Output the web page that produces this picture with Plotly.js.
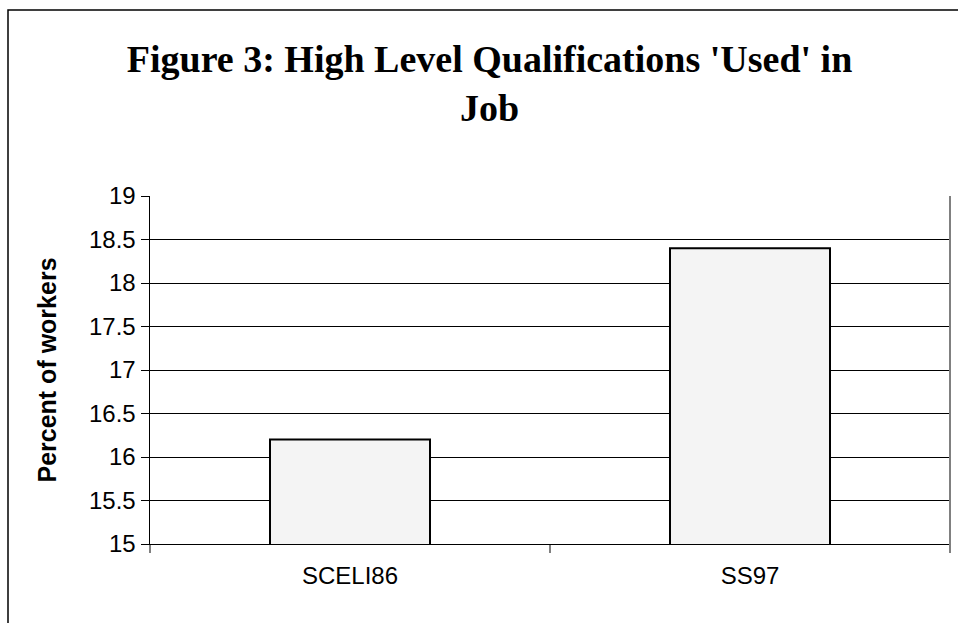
<!DOCTYPE html>
<html>
<head>
<meta charset="utf-8">
<script src="https://cdn.plot.ly/plotly-3.0.1.min.js"></script>
<style>html,body{margin:0;padding:0;background:#fff;}#chart{width:958px;height:623px;}</style>
</head>
<body>
<div id="chart"></div>
<script>
var categories = ["SCELI86", "SS97"];
var values = [16.2, 18.4];
var yTicks = [15, 15.5, 16, 16.5, 17, 17.5, 18, 18.5, 19];

var trace = {
  type: "bar",
  x: categories,
  y: values,
  marker: {color: "#f4f4f4", line: {color: "#000000", width: 2}},
  hoverinfo: "none"
};

var layout = {
  width: 958, height: 623,
  margin: {l: 150, r: 8, t: 196, b: 79, pad: 0},
  paper_bgcolor: "#ffffff",
  plot_bgcolor: "#ffffff",
  showlegend: false,
  bargap: 0.6,
  title: {
    text: "Figure 3: High Level Qualifications 'Used' in<br>Job",
    font: {family: "Liberation Serif, Times New Roman, serif", size: 38, color: "#000", weight: "bold"},
    x: 0.511, xanchor: "center", xref: "container",
    y: 0.885, yanchor: "top", yref: "container"
  },
  xaxis: {
    type: "category",
    tickson: "boundaries",
    ticks: "outside", ticklen: 8, tickcolor: "#808080", tickwidth: 2,
    showline: true, linecolor: "#000", linewidth: 1,
    showgrid: false,
    ticklabelstandoff: 10,
    tickfont: {family: "Liberation Sans, Arial, sans-serif", size: 24, color: "#000"},
    fixedrange: true
  },
  yaxis: {
    range: [15, 19],
    tickvals: yTicks,
    ticktext: yTicks.map(String),
    ticks: "outside", ticklen: 8, tickcolor: "#000", tickwidth: 1,
    showline: true, linecolor: "#000", linewidth: 1.5,
    showgrid: true, gridcolor: "#000", gridwidth: 1,
    zeroline: false,
    tickfont: {family: "Liberation Sans, Arial, sans-serif", size: 24, color: "#000"},
    title: {text: "<b>Percent of workers</b>", font: {family: "Liberation Sans, Arial, sans-serif", size: 25, color: "#000"}, standoff: 25},
    fixedrange: true
  },
  shapes: [
    {type: "line", xref: "paper", yref: "paper", x0: 1, x1: 1, y0: -0.023, y1: 1, line: {color: "#808080", width: 2}},
    {type: "rect", xref: "paper", yref: "paper", x0: -0.1775, x1: 1.2, y0: -0.6, y1: 1.5345, line: {color: "#000", width: 1.5}, fillcolor: "rgba(0,0,0,0)"}
  ]
};

Plotly.newPlot("chart", [trace], layout, {displayModeBar: false, staticPlot: true});
</script>
</body>
</html>
